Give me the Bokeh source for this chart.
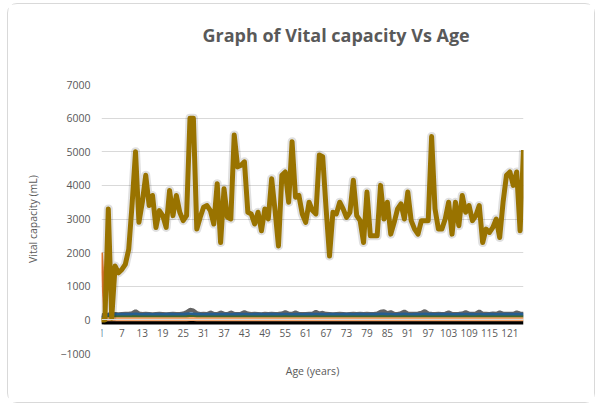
from bokeh.plotting import figure
from bokeh.models import Range1d, FixedTicker, Title
from bokeh.embed import file_html
from bokeh.resources import INLINE

ages = list(range(1, 126))
x_tick_labels = [1, 7, 13, 19, 25, 31, 37, 43, 49, 55, 61, 67, 73, 79, 85, 91, 97, 103, 109, 115, 121]
y_ticks = [-1000, 0, 1000, 2000, 3000, 4000, 5000, 6000, 7000]

vital_capacity = [
    0, 0, 3300, 50, 1600, 1400, 1500, 1650, 2100, 3450, 5000, 2900, 3500, 4300, 3400, 3700, 2750, 3250, 3100, 2750,
    3850, 3100, 3700, 3200, 2950, 3100, 6000, 6000, 2700, 3050, 3350, 3400, 3250, 2850, 4050, 2300, 3900, 3050, 3000, 5500,
    4550, 4600, 4700, 3200, 3150, 2850, 3200, 2650, 3300, 3000, 4200, 3250, 2200, 4300, 4400, 3500, 5300, 3650, 3700, 3150,
    2900, 3500, 3250, 3150, 4900, 4850, 3300, 1900, 3200, 3150, 3500, 3300, 3050, 3200, 4150, 3100, 2950, 2300, 3800, 2500,
    2500, 2500, 4000, 3000, 3500, 2550, 2900, 3300, 3450, 3000, 3800, 2950, 2700, 2550, 2950, 2950, 2950, 5450, 3300, 2700,
    2700, 3000, 3500, 2550, 3500, 2800, 3700, 3200, 3400, 2950, 3100, 3400, 2300, 2700, 2600, 2750, 3000, 2450, 3500, 4300,
    4400, 4000, 4400, 2650, 5050]

series_gray = [
    150, 120, 160, 170, 175, 170, 175, 180, 185, 200, 260, 190, 175, 180, 175, 170, 175, 180, 175, 170,
    175, 180, 175, 175, 190, 230, 300, 280, 200, 175, 180, 175, 220, 180, 175, 220, 185, 175, 220, 180,
    175, 185, 230, 190, 175, 180, 175, 170, 180, 175, 185, 175, 180, 190, 230, 185, 180, 220, 180, 175,
    175, 180, 180, 240, 190, 210, 180, 175, 170, 175, 180, 175, 170, 175, 180, 175, 180, 175, 180, 175,
    175, 190, 240, 260, 200, 230, 180, 175, 200, 250, 190, 180, 185, 190, 210, 260, 190, 180, 175, 180,
    175, 185, 220, 180, 175, 180, 190, 230, 185, 180, 190, 250, 185, 180, 175, 190, 180, 220, 185, 180,
    185, 180, 220, 190, 185]

series_blue = [
    40, 60, 140, 145, 150, 148, 150, 152, 150, 155, 158, 150, 148, 152, 150, 146, 150, 152, 148, 150,
    152, 150, 148, 150, 155, 160, 165, 160, 152, 150, 148, 150, 152, 150, 148, 150, 152, 150, 148, 150,
    152, 150, 155, 150, 148, 150, 152, 150, 148, 150, 152, 150, 148, 152, 155, 150, 148, 152, 150, 148,
    150, 152, 150, 155, 150, 152, 148, 150, 152, 150, 148, 150, 152, 150, 148, 150, 152, 150, 148, 150,
    152, 155, 160, 158, 150, 152, 148, 150, 155, 158, 150, 148, 152, 150, 155, 160, 152, 150, 148, 150,
    152, 150, 155, 150, 148, 152, 150, 155, 152, 150, 148, 155, 150, 148, 152, 150, 148, 155, 150, 152,
    155, 150, 152, 150, 155]

series_green = [
    30, 50, 80, 82, 85, 84, 86, 85, 88, 90, 95, 88, 85, 86, 85, 84, 86, 85, 84, 86,
    85, 86, 84, 85, 88, 92, 98, 95, 88, 85, 84, 86, 88, 85, 84, 88, 85, 84, 86, 85,
    84, 86, 90, 86, 85, 84, 86, 85, 84, 86, 85, 84, 86, 88, 92, 86, 85, 88, 86, 85,
    84, 86, 85, 90, 86, 88, 85, 84, 86, 85, 84, 86, 85, 84, 86, 85, 84, 86, 85, 84,
    86, 88, 92, 94, 88, 90, 86, 85, 88, 92, 86, 85, 86, 88, 90, 94, 88, 86, 85, 84,
    86, 85, 88, 86, 85, 86, 88, 90, 86, 85, 86, 92, 86, 85, 84, 86, 85, 88, 86, 85,
    86, 85, 88, 86, 87]

series_light_orange = [
    5, 10, 15, 16, 18, 17, 18, 18, 19, 20, 22, 19, 18, 18, 18, 17, 18, 18, 17, 18,
    18, 18, 17, 18, 19, 21, 24, 23, 19, 18, 17, 18, 19, 18, 17, 19, 18, 17, 18, 18,
    17, 18, 20, 18, 18, 17, 18, 18, 17, 18, 18, 17, 18, 19, 21, 18, 18, 19, 18, 18,
    17, 18, 18, 20, 18, 19, 18, 17, 18, 18, 17, 18, 18, 17, 18, 18, 17, 18, 18, 17,
    18, 19, 21, 22, 19, 20, 18, 18, 19, 21, 18, 18, 18, 19, 20, 22, 19, 18, 18, 17,
    18, 18, 19, 18, 18, 18, 19, 20, 18, 18, 18, 21, 18, 18, 17, 18, 18, 19, 18, 18,
    18, 18, 19, 18, 18]

series_black = [
    -70, -75, -78, -80, -80, -80, -80, -80, -80, -80, -80, -80, -80, -80, -80, -80, -80, -80, -80, -80,
    -80, -80, -80, -80, -80, -80, -80, -80, -80, -80, -80, -80, -80, -80, -80, -80, -80, -80, -80, -80,
    -80, -80, -80, -80, -80, -80, -80, -80, -80, -80, -80, -80, -80, -80, -80, -80, -80, -80, -80, -80,
    -80, -80, -80, -80, -80, -80, -80, -80, -80, -80, -80, -80, -80, -80, -80, -80, -80, -80, -80, -80,
    -80, -80, -80, -80, -80, -80, -80, -80, -80, -80, -80, -80, -80, -80, -80, -80, -80, -80, -80, -80,
    -80, -80, -80, -80, -80, -80, -80, -80, -80, -80, -80, -80, -80, -80, -80, -80, -80, -80, -80, -80,
    -80, -80, -80, -80, -80]

orange_ages = [1, 2]
series_orange = [2000, 15]
yellow_ages = [1, 2]
series_yellow = [0, 0]

FONT = "Open Sans"
TXT = "#595959"

p = figure(width=588, height=400, output_backend="svg", toolbar_location=None,
           x_range=Range1d(1, 125), y_range=Range1d(-1000, 7000),
           min_border_left=93, min_border_right=73, min_border_top=80, min_border_bottom=51)
p.styles = {"margin-left": "7px", "margin-top": "3px",
            "border": "1px solid #d9d9d9", "border-radius": "10px"}
p.outline_line_color = None
p.background_fill_color = "white"
p.border_fill_color = "white"

# spacer between the frame and the chart title
p.add_layout(Title(text=" ", text_font_size="1px", standoff=30), "above")

p.title.text = "Graph of Vital capacity Vs Age"
p.title.align = "left"
p.title.offset = 101
p.title.text_font = FONT
p.title.text_font_size = "18px"
p.title.text_font_style = "bold"
p.title.text_color = TXT

# grid
p.xgrid.visible = False
p.ygrid.grid_line_color = "#d9d9d9"
p.ygrid.grid_line_width = 1

# y axis
p.yaxis.ticker = FixedTicker(ticks=y_ticks)
p.yaxis.axis_line_color = None
p.yaxis.major_tick_line_color = None
p.yaxis.minor_tick_line_color = None
p.yaxis.major_tick_out = 0
p.yaxis.major_tick_in = 0
p.yaxis.major_label_standoff = 11
p.yaxis.major_label_text_font = FONT
p.yaxis.major_label_text_font_size = "10.5px"
p.yaxis.major_label_text_color = TXT
p.yaxis.axis_label = "Vital capacity (mL)"
p.yaxis.axis_label_text_font = FONT
p.yaxis.axis_label_text_font_size = "10.5px"
p.yaxis.axis_label_text_font_style = "normal"
p.yaxis.axis_label_text_color = TXT
p.yaxis.axis_label_standoff = 17

# x axis at value 0
p.xaxis.fixed_location = 0
p.xaxis.ticker = FixedTicker(ticks=x_tick_labels)
p.xaxis.axis_line_color = "#d9d9d9"
p.xaxis.major_tick_line_color = None
p.xaxis.minor_tick_line_color = None
p.xaxis.major_tick_out = 0
p.xaxis.major_tick_in = 0
p.xaxis.major_label_standoff = 9
p.xaxis.major_label_text_font = FONT
p.xaxis.major_label_text_font_size = "10px"
p.xaxis.major_label_text_color = TXT

p.add_layout(Title(text="Age (years)", align="center", text_font=FONT, text_font_size="10.5px",
                   text_font_style="normal", text_color=TXT, standoff=16), "below")

# near-zero series
p.line(ages, series_gray, line_color="#636363", line_width=4)
p.line(ages, series_blue, line_color="#255E91", line_width=4)
p.line(ages, series_green, line_color="#43682B", line_width=3)
p.line(ages, series_black, line_color="#000000", line_width=4)
p.line(ages, series_light_orange, line_color="#F4A46A", line_width=4)
p.line(yellow_ages, series_yellow, line_color="#FFC000", line_width=4)
p.line(orange_ages, series_orange, line_color="#ED7D31", line_width=3)

# main series with soft shadow
p.line(ages, vital_capacity, line_color="#000000", line_alpha=0.12, line_width=9, line_join="round")
p.line(ages, vital_capacity, line_color="#997300", line_width=5, line_join="round")

open("out.html", "w").write(file_html(p, INLINE))
